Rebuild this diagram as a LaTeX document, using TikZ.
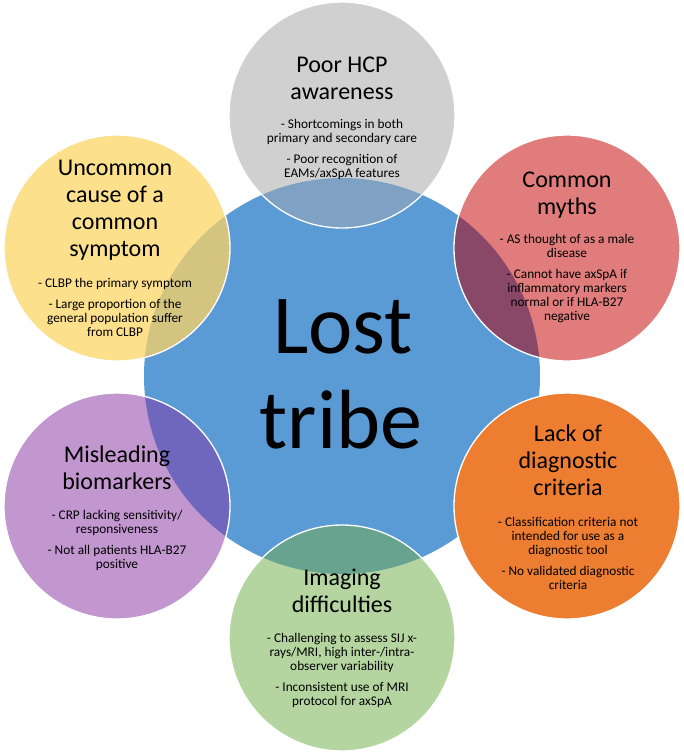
\documentclass[tikz,border=0pt]{standalone}
\usepackage{fontspec}
\setmainfont{Carlito}
\definecolor{cblue}{HTML}{5B9BD5}
\definecolor{cgray}{HTML}{D0D0D0}
\definecolor{cred}{HTML}{E07C7C}
\definecolor{corange}{HTML}{ED7D31}
\definecolor{cgreen}{HTML}{B5D5A0}
\definecolor{cpurple}{HTML}{C296CF}
\definecolor{cyellow}{HTML}{FCE08C}
\definecolor{ogray}{HTML}{7FA1C3}
\definecolor{ored}{HTML}{8A4869}
\definecolor{ogreen}{HTML}{67A38F}
\definecolor{opurple}{HTML}{6F66BE}
\definecolor{oyellow}{HTML}{D3C480}
\newcommand{\ttlstrut}{\rule{0pt}{18pt}}
\newcommand{\bdystrut}{\rule{0pt}{11pt}}
\begin{document}
\begin{tikzpicture}[x=1pt,y=-1pt,
  sat/.style={circle, minimum size=226pt, inner sep=0pt},
  rim/.style={draw=white, line width=1.3pt},
  ttl/.style={align=center, anchor=north, font=\fontsize{24}{27}\selectfont, inner sep=0pt, text=black},
  bdy/.style={align=center, anchor=north, font=\fontsize{13.3}{14}\selectfont, inner sep=0pt, text=black},
  big/.style={anchor=base, font=\fontsize{84}{95}\selectfont, inner sep=0pt, text=black}]
\useasboundingbox (0,0) rectangle (684,753);
% central circle
\node[circle, minimum size=396pt, inner sep=0pt, fill=cblue] (hub) at (342,376) {};
% satellites
\node[sat, fill=cgray]   (sgray)   at (342,115) {};
\node[sat, fill=cred]    (sred)    at (567,248) {};
\node[sat, fill=corange] (sorange) at (567,506) {};
\node[sat, fill=cgreen]  (sgreen)  at (342,638) {};
\node[sat, fill=cpurple] (spurple) at (117,506) {};
\node[sat, fill=cyellow] (syellow) at (117,248) {};
% overlaps
\begin{scope}
  \clip (hub.center) circle (198pt);
  \fill[ogray]   (sgray.center)   circle (113pt);
  \fill[ored]    (sred.center)    circle (113pt);
  \fill[ogreen]  (sgreen.center)  circle (113pt);
  \fill[opurple] (spurple.center) circle (113pt);
  \fill[oyellow] (syellow.center) circle (113pt);
\end{scope}
\foreach \s in {sgray,sred,sorange,sgreen,spurple,syellow}
  \draw[rim] (\s.center) circle (113pt);
% centre text
\node[big] (lost) at (343,353) {Lost};
\node[big] (tribe) at (341,448) {tribe};
% gray
\node[ttl] (tgray) at (342,72-18) {\ttlstrut Poor HCP\\awareness};
\node[bdy] (bgray) at (342,128-11) {\bdystrut - Shortcomings in both\\primary and secondary care\\[7pt]- Poor recognition of\\EAMs/axSpA features};
% red
\node[ttl] (tred) at (567,187-18) {\ttlstrut Common\\myths};
\node[bdy] (bred) at (567,243-11) {\bdystrut - AS thought of as a male\\disease\\[7pt]- Cannot have axSpA if\\inflammatory markers\\normal or if HLA-B27\\negative};
% orange
\node[ttl] (torange) at (568,441-18) {\ttlstrut Lack of\\diagnostic\\criteria};
\node[bdy] (borange) at (568,526-11) {\bdystrut - Classification criteria not\\intended for use as a\\diagnostic tool\\[7pt]- No validated diagnostic\\criteria};
% green
\node[ttl] (tgreen) at (342,585-18) {\ttlstrut Imaging\\difficulties};
\node[bdy] (bgreen) at (342,642-11) {\bdystrut - Challenging to assess SIJ x-\\rays/MRI, high inter-/intra-\\observer variability\\[7pt]- Inconsistent use of MRI\\protocol for axSpA};
% purple
\node[ttl] (tpurple) at (117,462-18) {\ttlstrut Misleading\\biomarkers};
\node[bdy] (bpurple) at (117,519-11) {\bdystrut - CRP lacking sensitivity/\\responsiveness\\[7pt]- Not all patients HLA-B27\\positive};
% yellow
\node[ttl] (tyellow) at (115,175-18) {\ttlstrut Uncommon\\cause of a\\common\\symptom};
\node[bdy] (byellow) at (115,287-11) {\bdystrut - CLBP the primary symptom\\[7pt]- Large proportion of the\\general population suffer\\from CLBP};
\end{tikzpicture}
\end{document}
